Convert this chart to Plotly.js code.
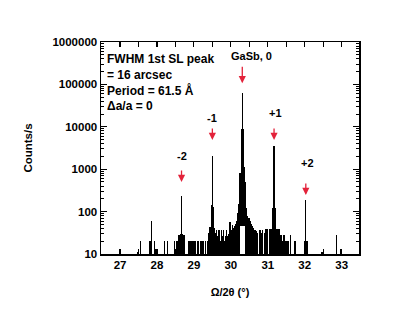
<!DOCTYPE html>
<html>
<head>
<meta charset="utf-8">
<script src="https://cdn.plot.ly/plotly-3.0.1.min.js"></script>
<style>html,body{margin:0;padding:0;background:#fff;}#chart{width:400px;height:321px;}</style>
</head>
<body>
<div id="chart"></div>
<script>
// Diffraction angle (Omega/2Theta, degrees) and counts per second
const angle = [27.00, 27.47, 27.56, 27.81, 27.85, 27.93, 27.97, 28.21, 28.29, 28.47, 28.53, 28.57,
  28.60, 28.63, 28.665, 28.70, 28.73,
  28.86, 28.89, 28.92, 28.98, 29.01, 29.04, 29.10, 29.13, 29.19, 29.22, 29.25, 29.31, 29.37,
  29.41, 29.44, 29.47, 29.50, 29.53, 29.56, 29.59, 29.62, 29.65, 29.68, 29.71, 29.74, 29.77,
  29.80, 29.83, 29.86, 29.89, 29.92, 29.95, 29.98, 30.01, 30.04, 30.07, 30.10, 30.13, 30.16,
  30.19, 30.22, 30.25, 30.28, 30.31, 30.34, 30.37, 30.40, 30.43, 30.46, 30.49, 30.52, 30.55,
  30.58, 30.61, 30.64, 30.67, 30.70, 30.73, 30.79, 30.82, 30.85, 30.91, 30.94, 30.97, 31.00,
  31.06, 31.09, 31.11, 31.14, 31.17, 31.20, 31.23, 31.26, 31.29, 31.32, 31.35, 31.38, 31.41,
  31.44, 31.47, 31.50, 31.53, 31.56, 31.61, 31.74, 32.00, 32.03, 32.06, 32.47, 32.86, 32.97];
const counts = [13, 11, 20, 20, 60, 20, 13, 20, 20, 20, 20, 20,
  28, 30, 230, 30, 28,
  20, 20, 20, 20, 20, 20, 20, 20, 20, 20, 20, 20, 20,
  31, 44, 140, 2100, 130, 40, 31, 37, 26, 37, 20, 37, 26,
  37, 20, 26, 37, 26, 30, 58, 37, 48, 40, 45, 52, 60,
  93, 150, 800, 9000, 63000, 9000, 1100, 500, 120, 80, 70, 60, 50,
  45, 40, 37, 37, 34, 31, 37, 31, 37, 31, 38, 38, 38,
  38, 38, 38, 122, 3550, 122, 38, 38, 38, 38, 28, 28, 20,
  28, 20, 20, 20, 20, 28, 20, 20, 188, 20, 11.4, 28, 13];
// hollow base of the main GaSb peak (white in the picture)
const hollowAngle = [30.25, 30.28, 30.31, 30.34, 30.37];
const hollowCounts = [45, 45, 45, 45, 45];

// Peak labels and arrow tips
const peakLabels = ['-2', '-1', 'GaSb, 0', '+1', '+2'];
const labelAngle = [28.67, 29.49, 30.55, 31.20, 32.07];
const labelCounts = [2040, 16200, 468000, 21400, 1410];
const arrowAngle = [28.665, 29.50, 30.31, 31.17, 32.03];
const arrowCounts = [500, 4900, 107000, 4900, 246];

const infoLines = ['FWHM 1st SL peak', '= 16 arcsec', 'Period = 61.5 Å', 'Δa/a = 0'];

const yTickVals = [10, 100, 1000, 10000, 100000, 1000000];
const yTickText = ['10', '100', '1000', '10000', '100000', '1000000'];
const xTickVals = [27, 28, 29, 30, 31, 32, 33];

const F = 'Liberation Sans, Arial, sans-serif';
const red = '#e3223a';

const traces = [
  {type: 'bar', x: angle, y: counts, width: 0.036,
   marker: {color: '#000', line: {width: 0}}, hoverinfo: 'skip'},
  {type: 'bar', x: hollowAngle, y: hollowCounts, width: 0.03,
   marker: {color: '#fff', line: {width: 0}}, hoverinfo: 'skip'}
];

const annotations = [];
infoLines.forEach((t, i) => {
  annotations.push({xref: 'paper', yref: 'paper', x: 0.016, y: [0.920, 0.843, 0.772, 0.700][i],
    xanchor: 'left', yanchor: 'middle', showarrow: false, text: t,
    font: {family: F, size: 12, color: '#000', weight: 700}});
});
peakLabels.forEach((t, i) => {
  annotations.push({xref: 'x', yref: 'y', x: labelAngle[i], y: Math.log10(labelCounts[i]),
    showarrow: false, text: t, xanchor: 'center', yanchor: 'middle',
    font: {family: F, size: 11, color: '#000', weight: 700}});
  annotations.push({xref: 'x', yref: 'y', x: arrowAngle[i], y: Math.log10(arrowCounts[i]),
    showarrow: true, text: '', ax: 0, ay: i === 2 ? -18 : -13,
    arrowhead: 2, arrowsize: 1.1, arrowwidth: 1.3, arrowcolor: red});
});

const layout = {
  width: 400, height: 321,
  margin: {l: 101, r: 41, t: 42, b: 67},
  paper_bgcolor: '#fff', plot_bgcolor: '#fff',
  showlegend: false, barmode: 'overlay', bargap: 0,
  font: {family: F, color: '#000'},
  xaxis: {
    range: [26.485, 33.47], tickvals: xTickVals, ticks: 'inside', ticklen: 5, tickwidth: 1.2,
    tickcolor: '#000', showline: true, linecolor: '#000', linewidth: 1.5, mirror: 'ticks',
    showgrid: false, zeroline: false,
    minor: {dtick: 0.5, tick0: 0, ticks: 'inside', ticklen: 5, tickcolor: '#000', tickwidth: 1.2, showgrid: false},
    tickfont: {family: F, size: 11.5, color: '#000', weight: 700},
    title: {text: 'Ω/2θ (°)', font: {family: F, size: 11, color: '#000', weight: 700}, standoff: 18}
  },
  yaxis: {
    type: 'log', range: [1, 6], tickvals: yTickVals, ticktext: yTickText,
    ticks: 'inside', ticklen: 6, tickwidth: 1.2, tickcolor: '#000',
    showline: true, linecolor: '#000', linewidth: 1.5, mirror: 'ticks',
    showgrid: false, zeroline: false,
    minor: {dtick: 'D1', ticks: 'inside', ticklen: 3, tickcolor: '#000', tickwidth: 1, showgrid: false},
    tickfont: {family: F, size: 11.5, color: '#000', weight: 700},
    title: {text: 'Counts/s', font: {family: F, size: 11.5, color: '#000', weight: 700}, standoff: 17}
  },
  annotations: annotations
};

Plotly.newPlot('chart', traces, layout, {staticPlot: true, displayModeBar: false});
</script>
</body>
</html>
